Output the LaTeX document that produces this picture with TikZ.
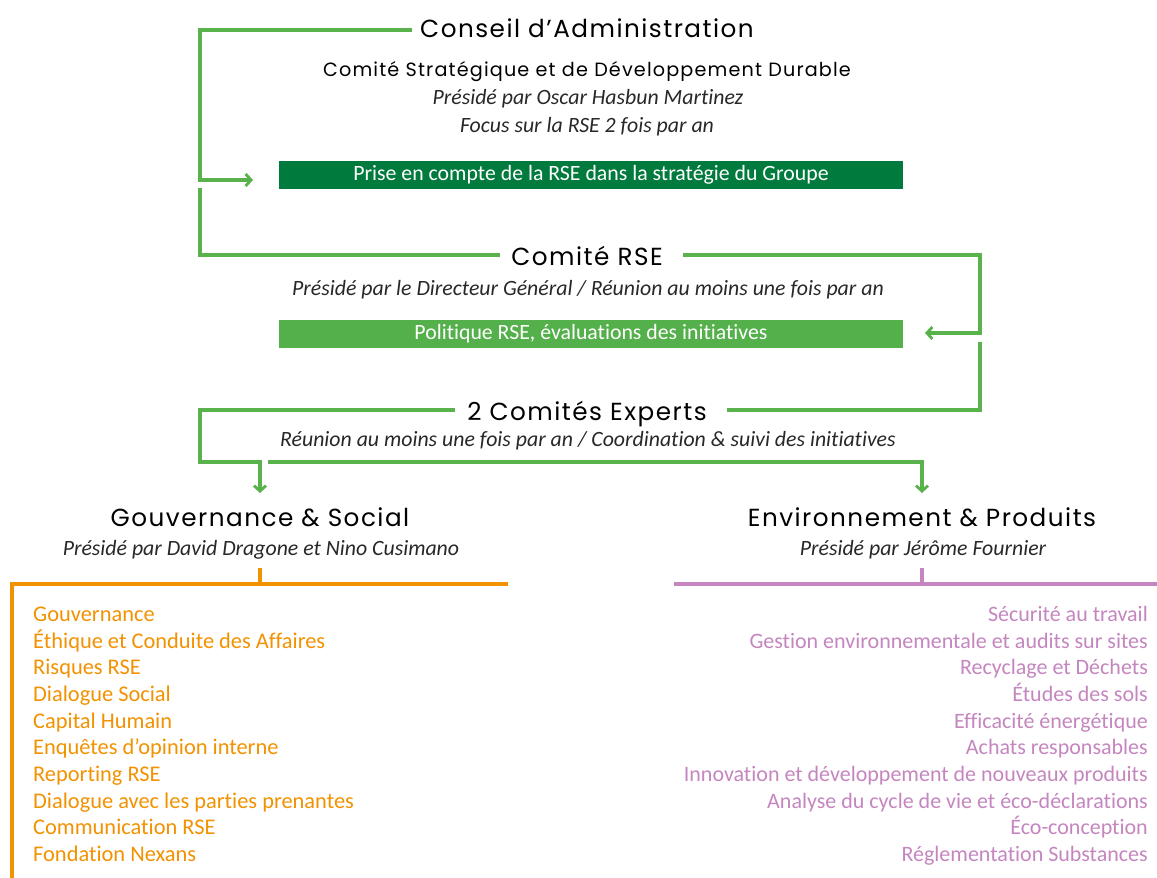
\documentclass[tikz,border=0pt]{standalone}
\usepackage{fontspec}
\usetikzlibrary{arrows.meta}
\newfontfamily\hfont[LetterSpace=6]{Poppins}
\newfontfamily\bfont[Ligatures=NoCommon]{Carlito}
\definecolor{gline}{RGB}{90,178,76}
\definecolor{dgreen}{RGB}{0,122,61}
\definecolor{lgreen}{RGB}{84,176,74}
\definecolor{orng}{RGB}{243,146,0}
\definecolor{purp}{RGB}{197,134,192}
\definecolor{itgray}{RGB}{40,40,40}
\tikzset{
  head/.style={anchor=base,inner sep=0pt,font=\hfont\fontsize{24.7}{28}\selectfont},
  sub/.style={anchor=base,inner sep=0pt,font=\hfont\fontsize{19.2}{22}\selectfont},
  ital/.style={anchor=base,inner sep=0pt,text=itgray,font=\bfont\itshape\fontsize{21.8}{24}\selectfont},
  bar/.style={minimum width=624pt,minimum height=28pt,inner sep=0pt,text=white,font=\bfont\fontsize{21.8}{24}\selectfont},
  oitem/.style={anchor=base west,inner sep=0pt,text=orng,font=\bfont\fontsize{22.4}{24}\selectfont},
  pitem/.style={anchor=base east,inner sep=0pt,text=purp,font=\bfont\fontsize{22}{24}\selectfont},
  gl/.style={draw=gline,line width=3.2pt},
  garrow/.style={gl,-{Straight Barb[length=5.5pt,width=12pt,line width=2.8pt]}},
  oline/.style={draw=orng,line width=3.2pt},
  pline/.style={draw=purp,line width=3.2pt},
}
\begin{document}
\begin{tikzpicture}[x=1pt,y=-1pt]
\useasboundingbox[fill=white] (0,0) rectangle (1157,878);
% top texts
\node[head] (conseil) at (587,37) {Conseil d’Administration};
\node[sub] (csdd) at (587,76) {Comité Stratégique et de Développement Durable};
\node[ital] (oscar) at (588,104) {Présidé par Oscar Hasbun Martinez};
\node[ital] (focus) at (587,132) {Focus sur la RSE 2 fois par an};
\node[bar,fill=dgreen] (bar1) at (591,175) {Prise en compte de la RSE dans la stratégie du Groupe};
\node[head] (crse) at (587,265) {Comité RSE};
\node[ital] (dg) at (588,295) {Présidé par le Directeur Général / Réunion au moins une fois par an};
\node[bar,fill=lgreen] (bar2) at (591,334) {Politique RSE, évaluations des initiatives};
\node[head] (experts) at (587,420) {2 Comités Experts};
\node[ital] (coord) at (588,446) {Réunion au moins une fois par an / Coordination \& suivi des initiatives};
\node[head] (gs) at (260,526) {Gouvernance \& Social};
\node[ital] (david) at (261,555) {Présidé par David Dragone et Nino Cusimano};
\node[head] (ep) at (922,526) {Environnement \& Produits};
\node[ital] (jerome) at (923,555) {Présidé par Jérôme Fournier};
% coordinates
\coordinate (a1) at (412,30);
\coordinate (a2) at (200,180);
\coordinate (a3) at (253,180);
\coordinate (b1) at (200,188);
\coordinate (b2) at (500,255);
\coordinate (c1) at (683,255);
\coordinate (c2) at (980,333);
\coordinate (c3) at (925,333);
\coordinate (d1) at (980,342);
\coordinate (d2) at (727,410);
\coordinate (e1) at (455,410);
\coordinate (e2) at (200,462);
\coordinate (e3) at (260,493);
\coordinate (f1) at (268,462);
\coordinate (f2) at (922,493);
% green connectors
\draw[garrow] (a1) -| (a2) -- (a3);
\draw[gl] (b1) |- (b2);
\draw[garrow] (c1) -| (c2) -- (c3);
\draw[gl] (d1) |- (d2);
\draw[garrow] (e1) -| (e2) -| (e3);
\draw[garrow] (f1) -| (f2);
% orange group
\coordinate (o1) at (260,568);
\coordinate (o2) at (260,584);
\coordinate (o3) at (12,584);
\coordinate (o4) at (508,584);
\coordinate (o5) at (12,880);
\draw[oline] (o1) -- (o2);
\draw[oline] (o4) -- (o3) -- (o5);
\coordinate (p1) at (922,568);
\coordinate (p2) at (922,584);
\coordinate (p3) at (674,584);
\coordinate (p4) at (1160,584);
\draw[pline] (p1) -- (p2);
\draw[pline] (p3) -- (p4);
% orange items
\node[oitem] (o_a) at (33,621) {Gouvernance};
\node[oitem] (o_b) at (33,648) {Éthique et Conduite des Affaires};
\node[oitem] (o_c) at (33,674.5) {Risques RSE};
\node[oitem] (o_d) at (33,701) {Dialogue Social};
\node[oitem] (o_e) at (33,728) {Capital Humain};
\node[oitem] (o_f) at (33,754.5) {Enquêtes d’opinion interne};
\node[oitem] (o_g) at (33,781) {Reporting RSE};
\node[oitem] (o_h) at (33,808) {Dialogue avec les parties prenantes};
\node[oitem] (o_i) at (33,834.5) {Communication RSE};
\node[oitem] (o_j) at (33,861) {Fondation Nexans};
% purple items
\node[pitem] (p_a) at (1148,621) {Sécurité au travail};
\node[pitem] (p_b) at (1148,648) {Gestion environnementale et audits sur sites};
\node[pitem] (p_c) at (1148,674.5) {Recyclage et Déchets};
\node[pitem] (p_d) at (1148,701) {Études des sols};
\node[pitem] (p_e) at (1148,728) {Efficacité énergétique};
\node[pitem] (p_f) at (1148,754.5) {Achats responsables};
\node[pitem] (p_g) at (1148,781) {Innovation et développement de nouveaux produits};
\node[pitem] (p_h) at (1148,808) {Analyse du cycle de vie et éco-déclarations};
\node[pitem] (p_i) at (1148,834.5) {Éco-conception};
\node[pitem] (p_j) at (1148,861) {Réglementation Substances};
\end{tikzpicture}
\end{document}
